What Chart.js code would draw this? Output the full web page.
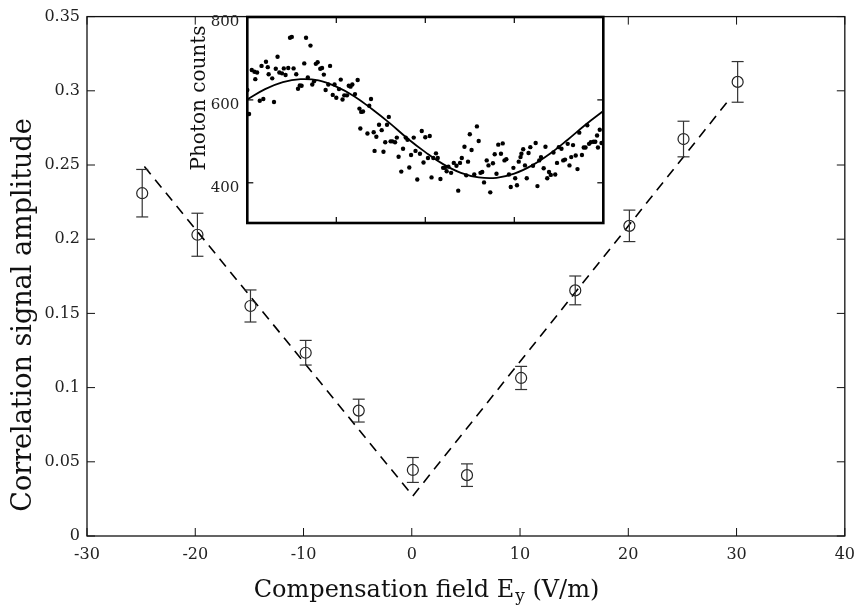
<!DOCTYPE html>
<html><head><meta charset="utf-8">
<script src="https://cdn.jsdelivr.net/npm/chart.js@4/dist/chart.umd.min.js"></script>
<style>
html,body{margin:0;padding:0;background:#fff;}
#wrap{position:relative;width:864px;height:608px;overflow:hidden;}
#main{position:absolute;left:0;top:0;}
#inset{position:absolute;left:180px;top:0;}
</style></head><body>
<div id="wrap"><canvas id="main" width="864" height="608"></canvas><canvas id="inset" width="430" height="240"></canvas></div>
<script>
// ---- main data ----
const fieldEy      = [-24.9, -19.8, -14.9, -9.8, -4.9, 0.1, 5.1, 10.1, 15.1, 20.1, 25.1, 30.1];
const amplitude    = [0.231, 0.203, 0.155, 0.1235, 0.0845, 0.0445, 0.041, 0.1065, 0.1655, 0.209, 0.2675, 0.306];
const amplitudeErr = [0.016, 0.0145, 0.0108, 0.0083, 0.0077, 0.0084, 0.0076, 0.0078, 0.0097, 0.0106, 0.012, 0.0137];
const vFitX = [-24.7, 0.1, 29.2];
const vFitY = [0.249, 0.027, 0.293];
const xTicks = [-30, -20, -10, 0, 10, 20, 30, 40];
const yTicks = [0, 0.05, 0.1, 0.15, 0.2, 0.25, 0.3, 0.35];
const xTitle = 'Compensation field E';
const xTitleSub = 'y';
const xTitleEnd = ' (V/m)';
const yTitle = 'Correlation signal amplitude';

// ---- inset data ----
const insetX = [0.00,0.02,0.05,0.08,0.09,0.11,0.14,0.16,0.18,0.21,0.23,0.24,0.28,0.30,0.32,0.34,0.36,0.39,0.41,0.43,
0.46,0.48,0.50,0.52,0.55,0.57,0.59,0.61,0.64,0.66,0.68,0.71,0.73,0.75,0.77,0.79,0.82,0.84,0.86,0.88,
0.91,0.93,0.96,0.98,1.00,1.03,1.05,1.07,1.09,1.12,1.14,1.16,1.18,1.21,1.24,1.26,1.27,1.28,1.30,1.35,
1.37,1.39,1.42,1.43,1.45,1.48,1.51,1.53,1.55,1.57,1.59,1.61,1.63,1.66,1.68,1.70,1.73,1.75,1.78,1.80,
1.82,1.84,1.87,1.89,1.91,1.94,1.96,1.98,2.00,2.03,2.05,2.07,2.09,
2.12,2.14,2.17,2.20,2.22,2.24,2.26,2.29,2.32,2.35,2.37,2.39,2.41,2.44,2.46,2.48,2.50,2.52,2.55,2.58,
2.60,2.62,2.64,2.66,2.69,2.71,2.73,2.76,2.78,2.80,2.82,2.85,2.87,2.89,2.91,2.94,2.96,2.99,3.01,3.03,
3.05,3.07,3.08,3.10,3.12,3.14,3.16,3.18,3.21,3.24,3.26,3.28,3.30,3.33,3.35,3.37,3.39,3.41,3.44,3.46,
3.48,3.50,3.53,3.55,3.57,3.60,3.62,3.64,3.66,3.69,3.71,3.73,3.76,3.78,3.80,3.82,3.84,3.86,3.89,3.91,
3.93,3.94,3.96,3.98];
const insetCounts = [624,566,672,668,650,666,598,682,602,692,679,662,652,595,675,704,666,664,676,660,
677,750,752,676,662,627,635,634,688,750,654,731,637,645,687,691,675,677,661,624,
637,682,612,637,605,626,649,601,611,611,634,632,637,614,648,579,531,571,572,519,
586,602,522,477,511,540,527,475,498,540,559,500,500,498,509,463,427,482,509,504,
437,467,509,477,408,470,525,449,510,460,513,413,460,
471,460,409,436,436,428,439,424,448,441,381,448,460,487,418,451,517,479,420,536,
501,424,426,401,454,442,377,447,469,422,492,470,495,454,457,420,390,436,411,394,
451,462,470,481,442,411,472,486,441,496,392,454,462,435,487,411,426,419,473,420,
448,486,482,454,456,494,442,462,491,466,433,521,467,485,485,539,494,498,499,499,
514,485,528,496];
const insetFitX = [0,0.2,0.4,0.6,0.8,1.0,1.2,1.4,1.6,1.8,2.0,2.2,2.4,2.6,2.8,3.0,3.2,3.4,3.6,3.8,4.0];
const insetFitY = [601,626,643,650,647,632,609,578,544,507,474,445,424,413,412,422,442,470,504,540,573];
const insetXTicks = [0, 1, 2, 3, 4];
const insetYTicks = [400, 600, 800];
const insetTitle = 'Photon counts';

const FAM = '"DejaVu Serif", "Liberation Serif", serif';

function seg(ctx, x1, y1, x2, y2) { ctx.beginPath(); ctx.moveTo(x1, y1); ctx.lineTo(x2, y2); ctx.stroke(); }

const mainDecor = {
  id: 'mainDecor',
  beforeDraw(chart) {
    const ctx = chart.ctx; ctx.save(); ctx.fillStyle = '#fff'; ctx.fillRect(0, 0, chart.width, chart.height); ctx.restore();
  },
  afterDatasetsDraw(chart) {
    const ctx = chart.ctx, xs = chart.scales.x, ys = chart.scales.y;
    ctx.save(); ctx.strokeStyle = '#333'; ctx.lineWidth = 1.2;
    for (let i = 0; i < fieldEy.length; i++) {
      const px = xs.getPixelForValue(fieldEy[i]);
      const pt = ys.getPixelForValue(amplitude[i] + amplitudeErr[i]);
      const pb = ys.getPixelForValue(amplitude[i] - amplitudeErr[i]);
      seg(ctx, px, pt, px, pb); seg(ctx, px - 6, pt, px + 6, pt); seg(ctx, px - 6, pb, px + 6, pb);
    }
    ctx.restore();
  },
  afterDraw(chart) {
    const ctx = chart.ctx, a = chart.chartArea, xs = chart.scales.x, ys = chart.scales.y;
    ctx.save(); ctx.strokeStyle = '#111'; ctx.lineWidth = 1.3;
    ctx.strokeRect(a.left, a.top, a.right - a.left, a.bottom - a.top);
    ctx.lineWidth = 1;
    xTicks.forEach(v => { const p = xs.getPixelForValue(v); seg(ctx, p, a.bottom, p, a.bottom - 8); seg(ctx, p, a.top, p, a.top + 8); });
    yTicks.forEach(v => { const p = ys.getPixelForValue(v); seg(ctx, a.left, p, a.left + 8, p); seg(ctx, a.right, p, a.right - 8, p); });
    // axis titles
    ctx.fillStyle = '#111';
    ctx.font = '24px ' + FAM; ctx.textBaseline = 'alphabetic'; ctx.textAlign = 'left';
    const w1 = ctx.measureText(xTitle).width, w3 = ctx.measureText(xTitleEnd).width;
    ctx.font = '17px ' + FAM; const w2 = ctx.measureText(xTitleSub).width;
    let x0 = 426 - (w1 + w2 + w3) / 2;
    ctx.font = '24px ' + FAM; ctx.fillText(xTitle, x0, 597);
    ctx.font = '17px ' + FAM; ctx.fillText(xTitleSub, x0 + w1 + 1, 601);
    ctx.font = '24px ' + FAM; ctx.fillText(xTitleEnd, x0 + w1 + w2 + 1, 597);
    ctx.translate(31, 315); ctx.rotate(-Math.PI / 2);
    ctx.font = '27px ' + FAM; ctx.textAlign = 'center'; ctx.fillText(yTitle, 0, 0);
    ctx.restore();
  }
};

new Chart(document.getElementById('main'), {
  type: 'scatter',
  data: {
    datasets: [
      { data: vFitX.map((x, i) => ({ x, y: vFitY[i] })), showLine: true, borderColor: '#000', borderWidth: 1.6,
        borderDash: [10, 7], pointRadius: 0, fill: false, order: 2 },
      { data: fieldEy.map((x, i) => ({ x, y: amplitude[i] })), pointStyle: 'circle', pointRadius: 5.5,
        pointBorderWidth: 1.2, pointBorderColor: '#222', pointBackgroundColor: 'rgba(0,0,0,0)', showLine: false, order: 1 }
    ]
  },
  options: {
    responsive: false, animation: false, devicePixelRatio: 1, events: [],
    layout: { padding: { left: 0, right: 12, top: 9.5, bottom: 0 } },
    plugins: { legend: { display: false }, tooltip: { enabled: false } },
    scales: {
      x: {
        type: 'linear', min: -30, max: 40,
        grid: { display: false, drawTicks: false }, border: { display: false },
        afterBuildTicks: s => { s.ticks = xTicks.map(v => ({ value: v })); },
        afterFit: s => { s.height = 72; },
        ticks: { padding: 9, autoSkip: false, maxRotation: 0, color: '#222', font: { family: FAM, size: 16 },
                 callback: v => String(v) }
      },
      y: {
        type: 'linear', min: 0, max: 0.35,
        grid: { display: false, drawTicks: false }, border: { display: false },
        afterBuildTicks: s => { s.ticks = yTicks.map(v => ({ value: v })); },
        afterFit: s => { s.width = 87; },
        ticks: { padding: 7, autoSkip: false, color: '#222', font: { family: FAM, size: 16 },
                 callback: v => String(+(+v).toFixed(2)) }
      }
    }
  },
  plugins: [mainDecor]
});

const insetDecor = {
  id: 'insetDecor',
  beforeDatasetsDraw(chart) {
    const ctx = chart.ctx, a = chart.chartArea;
    ctx.save(); ctx.fillStyle = '#fff'; ctx.fillRect(a.left, a.top, a.right - a.left, a.bottom - a.top); ctx.restore();
  },
  afterDraw(chart) {
    const ctx = chart.ctx, a = chart.chartArea, xs = chart.scales.x, ys = chart.scales.y;
    ctx.save(); ctx.strokeStyle = '#000'; ctx.lineWidth = 1.2;
    insetXTicks.forEach(v => { const p = xs.getPixelForValue(v); seg(ctx, p, a.bottom, p, a.bottom - 6); seg(ctx, p, a.top, p, a.top + 6); });
    insetYTicks.forEach(v => { const p = ys.getPixelForValue(v); seg(ctx, a.left, p, a.left + 6, p); seg(ctx, a.right, p, a.right - 6, p); });
    ctx.lineWidth = 2.6;
    ctx.strokeRect(a.left, a.top, a.right - a.left, a.bottom - a.top);
    ctx.fillStyle = '#111'; ctx.font = '20px ' + FAM; ctx.textAlign = 'center'; ctx.textBaseline = 'alphabetic';
    ctx.translate(25, 98); ctx.rotate(-Math.PI / 2); ctx.fillText(insetTitle, 0, 0);
    ctx.restore();
  }
};

new Chart(document.getElementById('inset'), {
  type: 'scatter',
  data: {
    datasets: [
      { data: insetFitX.map((x, i) => ({ x, y: insetFitY[i] })), showLine: true, borderColor: '#000', borderWidth: 1.8,
        pointRadius: 0, tension: 0.4, fill: false, order: 2 },
      { data: insetX.map((x, i) => ({ x, y: insetCounts[i] })), pointRadius: 2.2, pointBorderWidth: 0,
        pointBackgroundColor: '#000', showLine: false, order: 1 }
    ]
  },
  options: {
    responsive: false, animation: false, devicePixelRatio: 1, events: [],
    layout: { padding: { left: 0, right: 6.7, top: 10, bottom: 0 } },
    plugins: { legend: { display: false }, tooltip: { enabled: false } },
    scales: {
      x: {
        type: 'linear', min: 0, max: 4,
        grid: { display: false, drawTicks: false }, border: { display: false },
        afterBuildTicks: s => { s.ticks = insetXTicks.map(v => ({ value: v })); },
        afterFit: s => { s.height = 10.7; },
        ticks: { display: false }
      },
      y: {
        type: 'linear', min: 303, max: 800,
        grid: { display: false, drawTicks: false }, border: { display: false },
        afterBuildTicks: s => { s.ticks = insetYTicks.map(v => ({ value: v })); },
        afterFit: s => { s.width = 67.3; },
        ticks: { padding: 8, labelOffset: 5, color: '#222', font: { family: FAM, size: 15 }, callback: v => String(v) }
      }
    }
  },
  plugins: [insetDecor]
});
</script>
</body></html>
